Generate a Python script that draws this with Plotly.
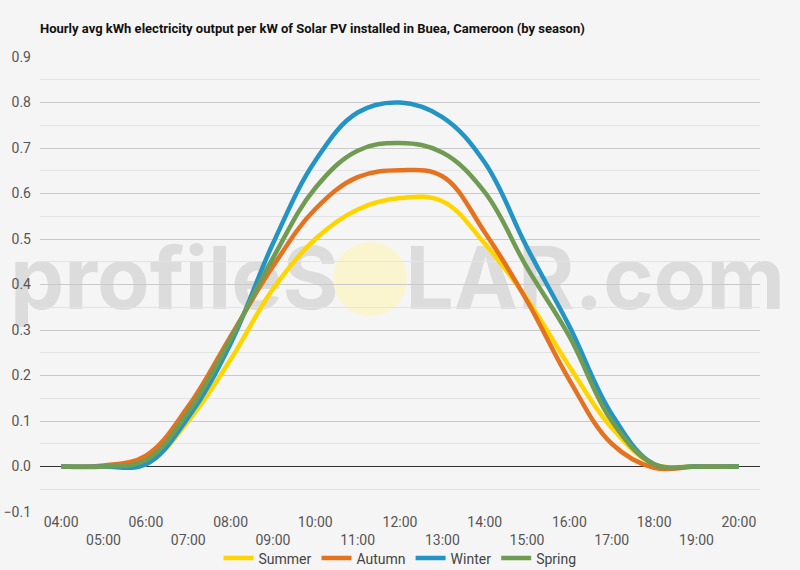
import plotly.graph_objects as go

hours = ["04:00", "05:00", "06:00", "07:00", "08:00", "09:00", "10:00", "11:00", "12:00",
         "13:00", "14:00", "15:00", "16:00", "17:00", "18:00", "19:00", "20:00"]
tick_labels = [h if i % 2 == 0 else "<br>" + h for i, h in enumerate(hours)]

summer = [0.0, 0.0, 0.005, 0.10, 0.235, 0.39, 0.50, 0.565, 0.59, 0.583, 0.49, 0.368, 0.22, 0.085, 0.005, 0.0, 0.0]
autumn = [0.0, 0.002, 0.024, 0.132, 0.286, 0.44, 0.566, 0.636, 0.651, 0.638, 0.515, 0.364, 0.19, 0.05, -0.003, 0.0, 0.0]
winter = [0.0, 0.0, 0.005, 0.108, 0.27, 0.49, 0.672, 0.778, 0.80, 0.768, 0.668, 0.481, 0.308, 0.115, 0.005, 0.0, 0.0]
spring = [0.0, 0.0, 0.014, 0.12, 0.28, 0.458, 0.612, 0.694, 0.711, 0.69, 0.603, 0.437, 0.286, 0.10, 0.005, 0.0, 0.0]

series = [("Summer", summer, "#FFD500"), ("Autumn", autumn, "#E5721F"),
          ("Winter", winter, "#2394C4"), ("Spring", spring, "#6F9C52")]

fig = go.Figure()
for name, vals, col in series:
    fig.add_trace(go.Scatter(x=hours, y=vals, name=name, mode="lines",
                             line=dict(color=col, width=4.5, shape="spline", smoothing=1.1)))

bg = "#F5F5F5"
fig.update_layout(
    width=800, height=570, paper_bgcolor=bg, plot_bgcolor="rgba(0,0,0,0)",
    margin=dict(l=40, r=40, t=57, b=58, autoexpand=False),
    font=dict(family="Roboto", size=14, color="#555555"),
    title=dict(text="<b>Hourly avg kWh electricity output per kW of Solar PV installed in Buea, Cameroon (by season)</b>",
               x=40/800, xanchor="left", y=1-28/570, yanchor="middle", pad=dict(l=0),
               font=dict(family="Roboto", size=13, color="#111111")),
    showlegend=True,
    legend=dict(orientation="h", x=0.5, xanchor="center", y=-0.067, yanchor="top",
                font=dict(size=14, color="#444444"), bgcolor="rgba(0,0,0,0)",
                itemwidth=30, tracegroupgap=0),
)
fig.update_xaxes(type="category", range=[-0.5, 16.5], tickvals=hours, ticktext=tick_labels,
                 showgrid=False, zeroline=False, showline=False, ticks="", automargin=False,
                 tickfont=dict(size=14, color="#555555"), tickangle=0)
fig.update_yaxes(range=[-0.1, 0.9], dtick=0.1, tickformat=".1f", showgrid=True,
                 gridcolor="#C9C9C9", gridwidth=1, zeroline=True, zerolinecolor="#333333",
                 zerolinewidth=1, showline=False, ticks="", ticklabelstandoff=8, automargin=False,
                 tickfont=dict(size=14, color="#555555"),
                 minor=dict(dtick=0.05, showgrid=True, gridcolor="#E3E3E3", gridwidth=1))

# watermark (below gridlines)
fig.add_shape(type="rect", xref="paper", yref="paper",
              x0=(0-40)/720, x1=(795-40)/720, y0=(512-332)/455, y1=(512-217)/455,
              line=dict(width=0), fillcolor="rgba(0,0,0,0)", layer="below",
              label=dict(text="<b>profileS<span style='color:rgba(0,0,0,0)'>O</span>LAR.com</b>",
                         textposition="middle center",
                         font=dict(family="Inter", size=86, color="#DCDCDC")))
fig.add_shape(type="circle", xref="paper", yref="paper", xsizemode="pixel", ysizemode="pixel",
              xanchor=(370-40)/720, yanchor=(512-279)/455, x0=-37, x1=37, y0=-37, y1=37,
              line=dict(width=0), fillcolor="#FAF5CE", layer="below")

fig.write_html("out.html", config={"displayModeBar": False},
               post_script="document.body.style.margin='0';")
